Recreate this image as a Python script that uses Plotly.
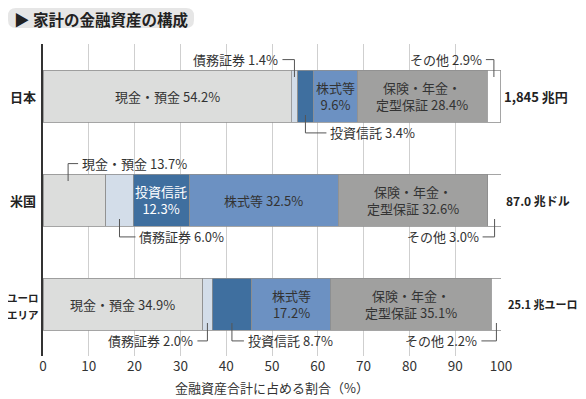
import plotly.graph_objects as go

# ---------------- data ----------------
categories = ["日本", "米国", "ユーロ<br>エリア"]
series_names = ["現金・預金", "債務証券", "投資信託", "株式等", "保険・年金・定型保証", "その他"]
cash = [54.2, 13.7, 34.9]
debt = [1.4, 6.0, 2.0]
funds = [3.4, 12.3, 8.7]
stocks = [9.6, 32.5, 17.2]
insurance = [28.4, 32.6, 35.1]
other = [2.9, 3.0, 2.2]
totals = ["1,845 兆円", "87.0 兆ドル", "25.1 兆ユーロ"]
x_ticks = [0, 10, 20, 30, 40, 50, 60, 70, 80, 90, 100]
title_text = "家計の金融資産の構成"
x_title = "金融資産合計に占める割合（%）"

series_values = [cash, debt, funds, stocks, insurance, other]
colors = ["#dcdddc", "#d3dde9", "#3f6f9f", "#6c91c2", "#a0a09f", "#ffffff"]
total_font_sizes = [13, 12, 11]

FONT = "Noto Sans CJK JP"
OFF = 8                   # page body margin offset
W, H = 586 - OFF, 399 - OFF
L, R, T, B = 35, 85, 36, 43
PW, PH = W - L - R, H - T - B
XU = 100.0 / PW          # data units per px (x)
YU = 3.0 / PH            # data units per px (y)

fig = go.Figure()
ypos = list(range(len(categories)))
for name, vals, col in zip(series_names, series_values, colors):
    fig.add_trace(go.Bar(
        y=ypos, x=vals, orientation="h", name=name, width=0.5,
        marker=dict(color=col, line=dict(color="#8f8f8f", width=0.8)),
        hoverinfo="x+name", showlegend=False))

# ------------- label layout (style only) -------------
# kind: ("in", textcolor, twoline) or ("out", side, direction, hlen_px, frac)
layout_spec = {
    (0, 0): ("in", "#333333", False),
    (0, 1): ("out", "above", "left", 12, 0.5),
    (0, 2): ("out", "below", "right", 21, 0.5),
    (0, 3): ("in", "#333333", True),
    (0, 4): ("in", "#333333", True),
    (0, 5): ("out", "above", "left", 8, 0.5),
    (1, 0): ("out", "above", "right", 10, 0.4),
    (1, 1): ("out", "below", "right", 16, 0.5),
    (1, 2): ("in", "#ffffff", True),
    (1, 3): ("in", "#333333", False),
    (1, 4): ("in", "#333333", True),
    (1, 5): ("out", "below", "left", 12, 0.5),
    (2, 0): ("in", "#333333", False),
    (2, 1): ("out", "below", "left", 10, 0.5),
    (2, 2): ("out", "below", "right", 12, 0.5),
    (2, 3): ("in", "#333333", True),
    (2, 4): ("in", "#333333", True),
    (2, 5): ("out", "below", "left", 15, 0.5),
}

def label_text(name, v, twoline):
    if name == "保険・年金・定型保証":
        return f"保険・年金・<br>定型保証 {v:.1f}%"
    if twoline:
        return f"{name}<br>{v:.1f}%"
    return f"{name} {v:.1f}%"

annotations = []
shapes = []
line_style = dict(color="#555555", width=1)
for ci in range(len(categories)):
    start = 0.0
    for si, (name, vals) in enumerate(zip(series_names, series_values)):
        v = vals[ci]
        spec = layout_spec[(ci, si)]
        if spec[0] == "in":
            annotations.append(dict(
                x=start + v / 2, y=ci, xref="x", yref="y",
                text=label_text(name, v, spec[2]), showarrow=False,
                font=dict(family=FONT, size=13, color=spec[1]),
                xanchor="center", yanchor="middle"))
        else:
            _, side, direction, hlen, frac = spec
            xc = start + v * frac
            sgn = -1 if side == "above" else 1
            y_in = ci + sgn * (0.25 - 7 * YU)
            y_lab = ci + sgn * (0.355 if side == "below" else 0.35)
            dx = hlen * XU * (-1 if direction == "left" else 1)
            xe = xc + dx
            shapes.append(dict(type="path", xref="x", yref="y",
                               path=f"M {xc},{y_in} L {xc},{y_lab} L {xe},{y_lab}",
                               line=line_style, layer="above"))
            annotations.append(dict(
                x=xe, y=y_lab, xref="x", yref="y",
                text=label_text(name, v, False), showarrow=False,
                font=dict(family=FONT, size=13, color="#333333"),
                xanchor="right" if direction == "left" else "left",
                xshift=-2 if direction == "left" else 2,
                yanchor="middle"))
        start += v

# category labels and totals
for ci, cat in enumerate(categories):
    lines = cat.split("<br>")
    if len(lines) == 1:
        annotations.append(dict(
            x=0, y=ci, xref="paper", yref="y", text=f"<b>{cat}</b>", showarrow=False,
            font=dict(family=FONT, size=13, color="#222222"),
            xanchor="right", xshift=-5, yanchor="middle"))
    else:
        n = len(lines)
        for li, ln in enumerate(lines):
            off_px = (li - (n - 1) / 2) * 17 + 1.5
            annotations.append(dict(
                x=0, y=ci + off_px * YU, xref="paper", yref="y", text=f"<b>{ln}</b>",
                showarrow=False, font=dict(family=FONT, size=10.5, color="#222222"),
                xanchor="right", xshift=-2, yanchor="middle"))
    annotations.append(dict(
        x=1, y=ci, xref="paper", yref="y", text=f"<b>{totals[ci]}</b>", showarrow=False,
        font=dict(family=FONT, size=total_font_sizes[ci], color="#222222"),
        xanchor="left", xshift=1 + 2 * ci, yanchor="middle"))

# helpers: reference-screen pixel -> paper coords
def px(xp):
    return (xp - OFF - L) / PW
def py(yp):
    return (H - B - (yp - OFF)) / PH

# axis title
annotations.append(dict(
    x=px(272), y=py(387), xref="paper", yref="paper", text=x_title, showarrow=False,
    font=dict(family=FONT, size=13, color="#333333"), xanchor="center", yanchor="middle"))

# title box (rounded rect)
x0, x1, y0, y1, r = OFF, 194, OFF, 28, 8
rx, ry = r / PW, r / PH
X0, X1, Y0, Y1 = px(x0), px(x1), py(y1), py(y0)
path = (f"M {X0+rx},{Y0} L {X1-rx},{Y0} Q {X1},{Y0} {X1},{Y0+ry} "
        f"L {X1},{Y1-ry} Q {X1},{Y1} {X1-rx},{Y1} L {X0+rx},{Y1} "
        f"Q {X0},{Y1} {X0},{Y1-ry} L {X0},{Y0+ry} Q {X0},{Y0} {X0+rx},{Y0} Z")
shapes.append(dict(type="path", xref="paper", yref="paper", path=path,
                   fillcolor="#e6e6e6", line=dict(width=0), layer="below"))
annotations.append(dict(
    x=px(12), y=py(18.5), xref="paper", yref="paper",
    text=f"<b>▶ {title_text}</b>", showarrow=False,
    font=dict(family=FONT, size=15.5, color="#222222"), xanchor="left", yanchor="middle"))

fig.update_layout(
    width=W, height=H, barmode="stack", bargap=0.5,
    margin=dict(l=L, r=R, t=T, b=B),
    paper_bgcolor="white", plot_bgcolor="white",
    font=dict(family=FONT, size=13, color="#333333"),
    xaxis=dict(range=[0, 100], tickvals=x_ticks, showgrid=True, gridcolor="#cfcfcf",
               gridwidth=1, zeroline=False, showline=False, ticks="",
               tickfont=dict(family=FONT, size=13.5, color="#333333"), fixedrange=True),
    yaxis=dict(range=[2.5, -0.5], showticklabels=False, showgrid=False, zeroline=False,
               showline=True, linecolor="#333333", linewidth=1.5, ticks="", fixedrange=True),
    annotations=annotations, shapes=shapes, showlegend=False)

fig.write_html("out.html")
